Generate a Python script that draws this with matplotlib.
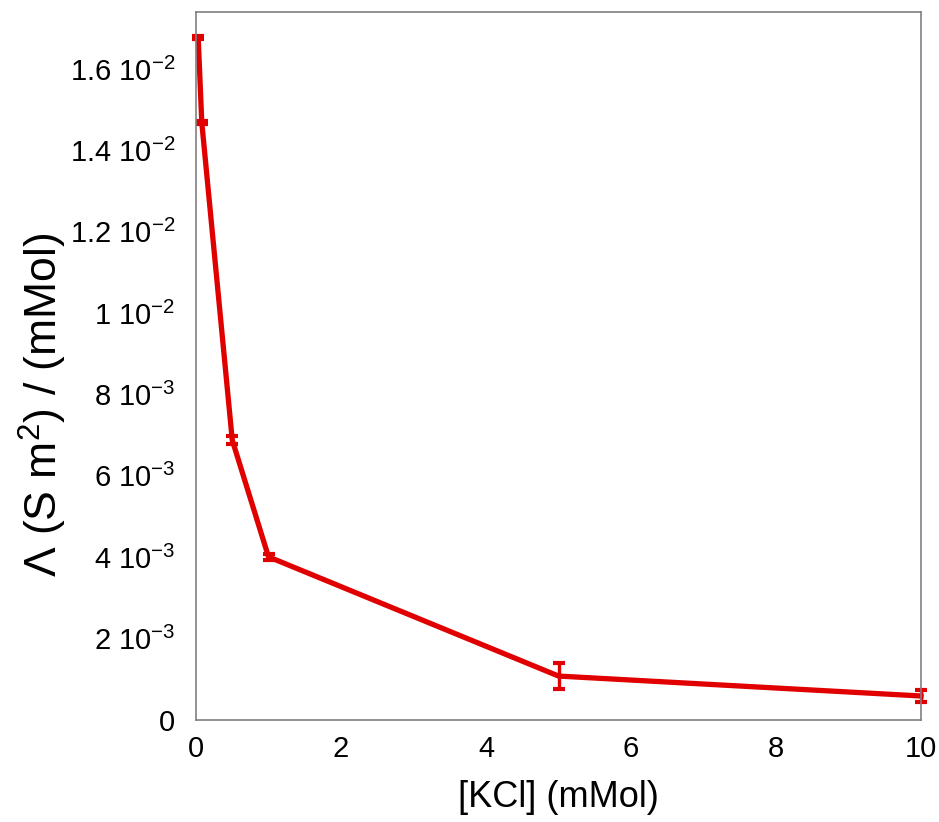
import numpy as np
import matplotlib.pyplot as plt

plt.rcParams['font.family'] = ['Liberation Sans', 'DejaVu Sans']
plt.rcParams['mathtext.fontset'] = 'custom'
plt.rcParams['mathtext.rm'] = 'Liberation Sans'

# 数据：KCl 浓度与摩尔电导率
kcl = [0.03, 0.08, 0.5, 1, 5, 10]
conductivity = [0.01677, 0.01468, 0.00688, 0.00401, 0.00108, 0.00059]
errors = [0.00004, 0.00004, 0.0001, 0.00007, 0.00032, 0.00015]

y_ticks = [0, 0.002, 0.004, 0.006, 0.008, 0.010, 0.012, 0.014, 0.016]
y_tick_labels = ["0",
                 r"2 10$^{\mathregular{-3}}$", r"4 10$^{\mathregular{-3}}$",
                 r"6 10$^{\mathregular{-3}}$", r"8 10$^{\mathregular{-3}}$",
                 r"1 10$^{\mathregular{-2}}$", r"1.2 10$^{\mathregular{-2}}$",
                 r"1.4 10$^{\mathregular{-2}}$", r"1.6 10$^{\mathregular{-2}}$"]
x_ticks = [0, 2, 4, 6, 8, 10]

fig = plt.figure(figsize=(9.39, 8.22), dpi=100)
ax = fig.add_axes([196 / 939, 1 - 720 / 822, 725 / 939, 708 / 822])

color = "#e00000"
ax.errorbar(kcl, conductivity, yerr=errors, color=color, linewidth=3.8,
            elinewidth=2.4, capsize=4.5, capthick=3, clip_on=False)

ax.set_xlim(0, 10)
ax.set_ylim(0, 0.0174)
ax.set_xticks(x_ticks)
ax.set_yticks(y_ticks)
ax.set_yticklabels(y_tick_labels)
ax.tick_params(length=0, labelsize=21)
ax.tick_params(axis='y', pad=15)
ax.tick_params(axis='x', pad=11)

for s in ax.spines.values():
    s.set_color("#808080")
    s.set_linewidth(1.2)

ax.set_xlabel("[KCl] (mMol)", fontsize=26, labelpad=12)
ax.set_ylabel(r"Λ (S m$^{\mathregular{2}}$) / (mMol)", fontsize=32)
ax.yaxis.set_label_coords(-0.175, 0.445)

fig.savefig("out.png", dpi=100)
